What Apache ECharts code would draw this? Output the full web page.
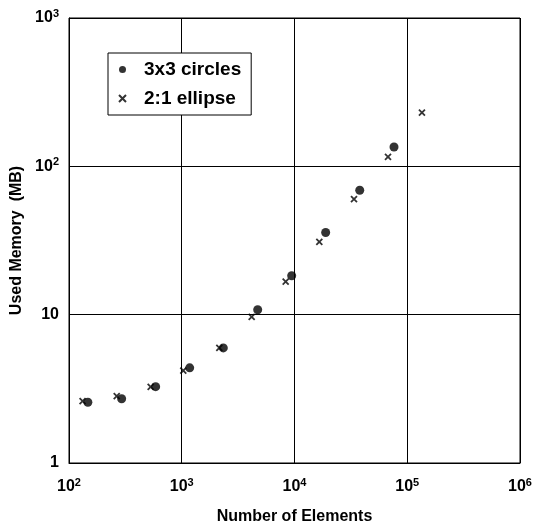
<!DOCTYPE html>
<html>
<head>
<meta charset="utf-8">
<script src="https://cdn.jsdelivr.net/npm/echarts@6/dist/echarts.min.js"></script>
<style>
html, body { margin: 0; padding: 0; background: #fff; }
#main { width: 539px; height: 530px; }
</style>
</head>
<body>
<div id="main"></div>
<script>
// data
var circleN = [147, 293, 587, 1176, 2336, 4715, 9440, 18900, 37900, 76300];
var circleMem = [2.57, 2.71, 3.27, 4.38, 5.97, 10.8, 18.3, 35.8, 69, 135];
var ellipseN = [132, 265, 530, 1032, 2154, 4170, 8350, 16600, 33700, 67500, 135000];
var ellipseMem = [2.61, 2.82, 3.26, 4.2, 5.97, 9.65, 16.7, 31.0, 60.1, 116, 230];
var seriesNames = ['3x3 circles', '2:1 ellipse'];

var font = 'Liberation Sans, Arial, sans-serif';
var crossPath = 'path://M0,0L10,10M10,0L0,10';

function pairs(xs, ys) {
    return xs.map(function (x, i) { return [x, ys[i]]; });
}

function powLabel(v) {
    var e = Math.round(Math.log(v) / Math.LN10);
    return '{b|10}{s|' + e + '}';
}

var rich = {
    b: { fontSize: 16, fontFamily: font, color: '#000', fontWeight: 'bold' },
    s: { fontSize: 11, fontFamily: font, color: '#000', fontWeight: 'bold', padding: [0, 0, 9, 0] }
};

var myChart = echarts.init(document.getElementById('main'));
var option = {
    backgroundColor: '#fff',
    animation: false,
    grid: { left: 69, right: 19, top: 18, bottom: 66, show: true, borderColor: '#000', borderWidth: 1 },
    legend: {
        orient: 'vertical',
        left: 108,
        top: 53,
        data: [
            { name: seriesNames[0], icon: 'circle' },
            { name: seriesNames[1], icon: crossPath }
        ],
        itemWidth: 7,
        itemHeight: 7,
        itemGap: 10,
        padding: [7, 10, 7, 10],
        borderColor: '#000',
        borderWidth: 1,
        backgroundColor: '#fff',
        textStyle: { fontSize: 19, fontFamily: font, color: '#000', fontWeight: 'bold', padding: [0, 0, 0, 13] }
    },
    xAxis: {
        type: 'log',
        logBase: 10,
        min: 100,
        max: 1000000,
        name: 'Number of Elements',
        nameLocation: 'middle',
        nameGap: 46,
        nameTextStyle: { fontSize: 16, fontFamily: font, color: '#000', fontWeight: 'bold' },
        axisLine: { lineStyle: { color: '#000' } },
        axisTick: { show: false },
        minorTick: { show: false },
        axisLabel: { margin: 14, formatter: powLabel, rich: rich },
        splitLine: { show: true, lineStyle: { color: '#000', width: 1 } }
    },
    yAxis: {
        type: 'log',
        logBase: 10,
        min: 1,
        max: 1000,
        name: 'Used Memory  (MB)',
        nameLocation: 'middle',
        nameGap: 42,
        nameRotate: 90,
        nameTextStyle: { fontSize: 16, fontFamily: font, color: '#000', fontWeight: 'bold' },
        axisLine: { lineStyle: { color: '#000' } },
        axisTick: { show: false },
        axisLabel: {
            margin: 10,
            formatter: function (v) {
                if (v < 1.5) return '{b|1}';
                if (v < 15) return '{b|10}';
                return powLabel(v);
            },
            rich: rich
        },
        splitLine: { show: true, lineStyle: { color: '#000', width: 1 } }
    },
    series: [
        {
            name: seriesNames[0],
            type: 'scatter',
            symbol: 'circle',
            symbolSize: 9,
            itemStyle: { color: '#000' },
            data: pairs(circleN, circleMem)
        },
        {
            name: seriesNames[1],
            type: 'scatter',
            symbol: crossPath,
            symbolSize: 6,
            itemStyle: { color: '#000', borderColor: '#000', borderWidth: 1.8 },
            data: pairs(ellipseN, ellipseMem)
        }
    ]
};
myChart.setOption(option);
</script>
</body>
</html>
